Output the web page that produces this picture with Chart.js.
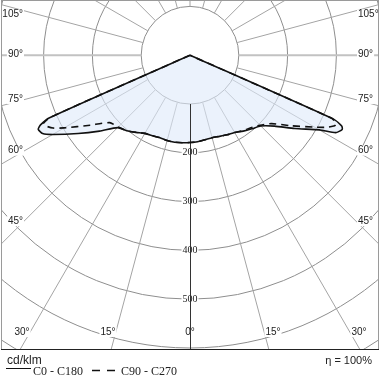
<!DOCTYPE html>
<html>
<head>
<meta charset="utf-8">
<script src="https://cdn.jsdelivr.net/npm/chart.js@4/dist/chart.umd.min.js"></script>
<style>
  html, body { margin: 0; padding: 0; background: #fff; }
  canvas { display: block; }
</style>
</head>
<body>
<canvas id="ldc" width="380" height="380"></canvas>
<script>
// gamma angle from nadir (deg) and luminous intensity in cd/klm
const gammaAngles = [0, 5, 10, 15, 20, 25, 30, 35, 40, 45, 50, 55, 60, 62, 64, 65, 66, 67, 90];
const c0Values   = [179, 178, 176, 175, 177, 180, 183, 190, 197, 205, 226, 262, 306, 338, 347, 343, 322, 0, 0];
const c180Values = [179, 180, 181, 181, 180, 182, 185, 193, 202, 210, 242, 280, 325, 342, 346, 338, 315, 0, 0];
const c90Values  = [179, 178, 176, 175, 177, 180, 183, 189, 194, 203, 218, 252, 295, 315, 330, 330, 318, 0, 0];
const c270Values = [179, 180, 181, 181, 180, 182, 185, 193, 202, 208, 215, 250, 298, 318, 330, 332, 315, 0, 0];

const ringValues = [100, 200, 300, 400, 500, 600, 700, 800, 900, 1000];
const ringLabels = [200, 300, 400, 500];
const spokeAngles = [0, 15, 30, 45, 60, 75, 90, 105, 120, 135, 150, 165, 180];
const angleLabels = [0, 15, 30, 45, 60, 75, 90, 105];
const efficiency = '\u03B7 = 100%';
const unitLabel = 'cd/klm';
const legendSolid = 'C0 - C180';
const legendDashed = 'C90 - C270';

// layout of the photometric frame
const CENTER_X = 190, CENTER_Y = 55.2, PX_PER_CD = 0.488;
const AREA = { left: 1, top: 0, right: 379, bottom: 350 };

const rad = d => d * Math.PI / 180;

// left half (second list) from 90 down to 0, right half (first list) from 0 up to 90
function buildCurve(rightVals, leftVals) {
    const pts = [];
    for (let i = gammaAngles.length - 1; i >= 0; i--) {
        const g = rad(gammaAngles[i]);
        pts.push({ x: -leftVals[i] * Math.sin(g), y: -leftVals[i] * Math.cos(g) });
    }
    for (let i = 1; i < gammaAngles.length; i++) {
        const g = rad(gammaAngles[i]);
        pts.push({ x: rightVals[i] * Math.sin(g), y: -rightVals[i] * Math.cos(g) });
    }
    return pts;
}

const polarGrid = {
    id: 'polarGrid',
    beforeDatasetsDraw(chart) {
        const { ctx, chartArea: a, scales: { x, y } } = chart;
        const cx = x.getPixelForValue(0);
        const cy = y.getPixelForValue(0);
        const r = v => x.getPixelForValue(v) - cx;
        const far = r(ringValues[ringValues.length - 1]);

        ctx.save();
        ctx.beginPath();
        ctx.rect(a.left, a.top, a.right - a.left, a.bottom - a.top);
        ctx.clip();

        // rings
        ctx.strokeStyle = '#8e8e8e';
        ctx.lineWidth = 1;
        ringValues.forEach(v => {
            ctx.beginPath();
            ctx.arc(cx, cy, r(v), 0, Math.PI * 2);
            ctx.stroke();
        });

        // spokes from the first ring outwards
        const r0 = r(ringValues[0]);
        spokeAngles.forEach(d => {
            if (d === 0) return;
            const g = rad(d);
            const sides = d === 180 ? [1] : [-1, 1];
            ctx.strokeStyle = d === 90 ? '#c2c2c2' : '#a4a4a4';
            ctx.lineWidth = d === 90 ? 2 : 1;
            sides.forEach(s => {
                ctx.beginPath();
                ctx.moveTo(cx + s * r0 * Math.sin(g), cy + r0 * Math.cos(g));
                ctx.lineTo(cx + s * far * Math.sin(g), cy + far * Math.cos(g));
                ctx.stroke();
            });
        });

        // light fill inside the C0-C180 curve, grid stays faintly visible
        ctx.fillStyle = 'rgba(222, 234, 250, 0.6)';
        const pts = chart.getDatasetMeta(0).data;
        ctx.beginPath();
        pts.forEach((p, k) => k ? ctx.lineTo(p.x, p.y) : ctx.moveTo(p.x, p.y));
        ctx.closePath();
        ctx.fill();

        // labels with white background
        const boxed = (txt, px, py, align) => {
            const w = ctx.measureText(txt).width;
            let left = align === 'right' ? px - w : align === 'center' ? px - w / 2 : px;
            ctx.fillStyle = '#fff';
            ctx.fillRect(left - 1, py - 5, w + 2, 10);
            ctx.fillStyle = '#222';
            ctx.textAlign = align;
            ctx.fillText(txt, px, py);
        };
        ctx.textBaseline = 'middle';
        ctx.font = '10px "Liberation Serif"';
        ringLabels.forEach(v => boxed(String(v), cx, cy + r(v), 'center'));

        ctx.font = '10px "Liberation Sans"';
        const dxMax = cx - (a.left + 22);
        const dyMax = (a.bottom - 17) - cy;
        angleLabels.forEach(d => {
            const g = rad(d);
            const sn = Math.sin(g), cs = Math.cos(g);
            let t = sn > 0 ? dxMax / sn : Infinity;
            if (cs > 0) t = Math.min(t, dyMax / cs);
            const txt = d + '\u00B0';
            const ly = cy + t * cs + (cs < 0 ? 4 : -1);
            if (d === 0) {
                boxed(txt, cx, ly, 'center');
                return;
            }
            boxed(txt, cx - t * sn, ly, 'right');
            boxed(txt, cx + t * sn + 1, ly, 'left');
        });

        // nadir axis
        ctx.strokeStyle = '#333';
        ctx.lineWidth = 1;
        ctx.beginPath();
        ctx.moveTo(Math.round(cx) + 0.5, cy + r0);
        ctx.lineTo(Math.round(cx) + 0.5, a.bottom);
        ctx.stroke();
        ctx.restore();
    },
    afterDraw(chart) {
        const { ctx, chartArea: a } = chart;
        ctx.save();
        // frame
        ctx.strokeStyle = '#9a9a9a';
        ctx.lineWidth = 1;
        ctx.strokeRect(a.left + 0.5, a.top + 0.5, a.right - a.left - 1, a.bottom - a.top - 1);
        ctx.strokeStyle = '#222';
        ctx.beginPath();
        ctx.moveTo(a.left, a.bottom - 0.5);
        ctx.lineTo(a.right, a.bottom - 0.5);
        ctx.stroke();

        // legend
        ctx.fillStyle = '#222';
        ctx.textBaseline = 'middle';
        ctx.textAlign = 'left';
        ctx.font = '12px "Liberation Sans"';
        ctx.fillText(unitLabel, 7, 361);
        ctx.strokeStyle = '#111';
        ctx.lineWidth = 1;
        ctx.beginPath();
        ctx.moveTo(6, 368.5);
        ctx.lineTo(31, 368.5);
        ctx.stroke();
        ctx.font = '12px "Liberation Serif"';
        ctx.fillText(legendSolid, 33, 372);
        ctx.lineWidth = 1.5;
        ctx.setLineDash([8, 7]);
        ctx.beginPath();
        ctx.moveTo(92, 370.5);
        ctx.lineTo(116, 370.5);
        ctx.stroke();
        ctx.setLineDash([]);
        ctx.fillText(legendDashed, 121, 372);
        ctx.textAlign = 'right';
        ctx.font = '11px "Liberation Sans"';
        ctx.fillText(efficiency, 372, 361);
        ctx.restore();
    }
};

new Chart(document.getElementById('ldc'), {
    type: 'scatter',
    data: {
        datasets: [
            {
                label: legendSolid,
                data: buildCurve(c0Values, c180Values),
                showLine: true,
                borderColor: '#111',
                borderWidth: 1.6,
                pointRadius: 0,
                tension: 0.2
            },
            {
                label: legendDashed,
                data: buildCurve(c90Values, c270Values),
                showLine: true,
                borderColor: '#111',
                borderWidth: 1.6,
                borderDash: [7, 5],
                pointRadius: 0,
                tension: 0.2
            }
        ]
    },
    options: {
        responsive: false,
        animation: false,
        devicePixelRatio: 1,
        layout: { padding: { left: AREA.left, top: AREA.top, right: 380 - AREA.right, bottom: 380 - AREA.bottom } },
        scales: {
            x: {
                type: 'linear', display: false,
                min: (AREA.left - CENTER_X) / PX_PER_CD,
                max: (AREA.right - CENTER_X) / PX_PER_CD
            },
            y: {
                type: 'linear', display: false,
                min: (CENTER_Y - AREA.bottom) / PX_PER_CD,
                max: (CENTER_Y - AREA.top) / PX_PER_CD
            }
        },
        plugins: { legend: { display: false }, tooltip: { enabled: false } }
    },
    plugins: [polarGrid]
});
</script>
</body>
</html>
